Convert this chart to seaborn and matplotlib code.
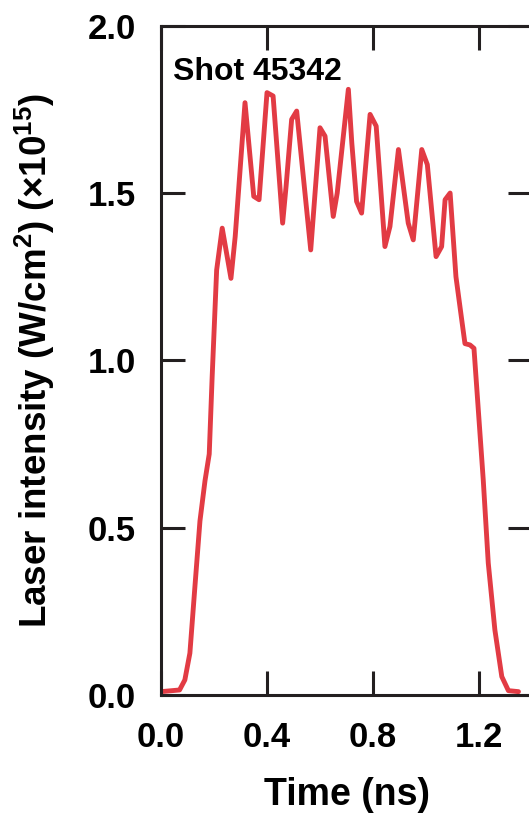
import matplotlib
matplotlib.use("Agg")
import matplotlib.pyplot as plt
import seaborn as sns
import pandas as pd

# Laser pulse shape, shot 45342
time_ns = [0.0, 0.07, 0.09, 0.109, 0.128, 0.147, 0.166, 0.182, 0.193, 0.21,
           0.231, 0.264, 0.28, 0.317, 0.35, 0.37, 0.40, 0.423, 0.459, 0.472,
           0.493, 0.512, 0.565, 0.60, 0.619, 0.65, 0.665, 0.707, 0.72, 0.738,
           0.757, 0.789, 0.812, 0.845, 0.864, 0.896, 0.933, 0.952, 0.984, 1.005,
           1.038, 1.059, 1.072, 1.091, 1.113, 1.135, 1.147, 1.166, 1.181, 1.216,
           1.235, 1.26, 1.286, 1.311, 1.349]
intensity = [0.01, 0.015, 0.045, 0.125, 0.324, 0.52, 0.64, 0.72, 0.95, 1.27,
             1.395, 1.245, 1.37, 1.77, 1.49, 1.48, 1.80, 1.79, 1.41, 1.52,
             1.72, 1.745, 1.33, 1.695, 1.67, 1.43, 1.50, 1.81, 1.65, 1.475,
             1.44, 1.735, 1.70, 1.34, 1.40, 1.63, 1.41, 1.36, 1.63, 1.585,
             1.31, 1.34, 1.48, 1.50, 1.25, 1.12, 1.05, 1.046, 1.036, 0.643,
             0.394, 0.194, 0.055, 0.013, 0.01]

x_ticks = [0.0, 0.4, 0.8, 1.2]
x_ticklabels = ["0.0", "0.4", "0.8", "1.2"]
y_ticks = [0.0, 0.5, 1.0, 1.5, 2.0]
y_ticklabels = ["0.0", "0.5", "1.0", "1.5", "2.0"]
shot_label = "Shot 45342"

df = pd.DataFrame({"Time (ns)": time_ns, "Intensity": intensity})

sns.set_theme(style="ticks")
plt.rcParams["font.family"] = ["Liberation Sans", "DejaVu Sans"]
plt.rcParams["mathtext.fontset"] = "custom"
plt.rcParams["mathtext.rm"] = "Liberation Sans:bold"
plt.rcParams["mathtext.default"] = "regular"
plt.rcParams["text.color"] = "black"
plt.rcParams["axes.labelcolor"] = "black"

spine_col = "#231F20"
fig = plt.figure(figsize=(5.29, 8.15), dpi=100)
ax = fig.add_axes([161 / 529, 120 / 815, (532 - 161) / 529, (695 - 25.7) / 815])

sns.lineplot(data=df, x="Time (ns)", y="Intensity", ax=ax,
             color="#E23B44", linewidth=3.5, sort=False)

ax.set_xlim(0, 1.4)
ax.set_ylim(0, 2.0)
ax.set_xticks(x_ticks)
ax.set_xticklabels(x_ticklabels)
ax.set_yticks(y_ticks)
ax.set_yticklabels(y_ticklabels)

for s in ax.spines.values():
    s.set_visible(True)
    s.set_color(spine_col)
    s.set_linewidth(2.2)

ax.tick_params(axis="both", which="both", direction="in", length=17, width=2.2,
               color=spine_col, top=True, right=True, labelsize=25,
               labelcolor="black")
ax.tick_params(axis="x", pad=19)
ax.tick_params(axis="y", pad=18)
for lab in ax.get_xticklabels() + ax.get_yticklabels():
    lab.set_fontweight("bold")

ax.set_xlabel("Time (ns)", fontsize=27, fontweight="bold", labelpad=16,
              color="black")
ax.set_ylabel("Laser intensity (W/cm$^2$) (×10$^{15}$)", fontsize=26.5,
              fontweight="bold", color="black", labelpad=22)

ax.text(0.032, 0.953, shot_label, transform=ax.transAxes, fontsize=23,
        fontweight="bold", ha="left", va="top", color="black")

fig.savefig("out.png", dpi=100)
